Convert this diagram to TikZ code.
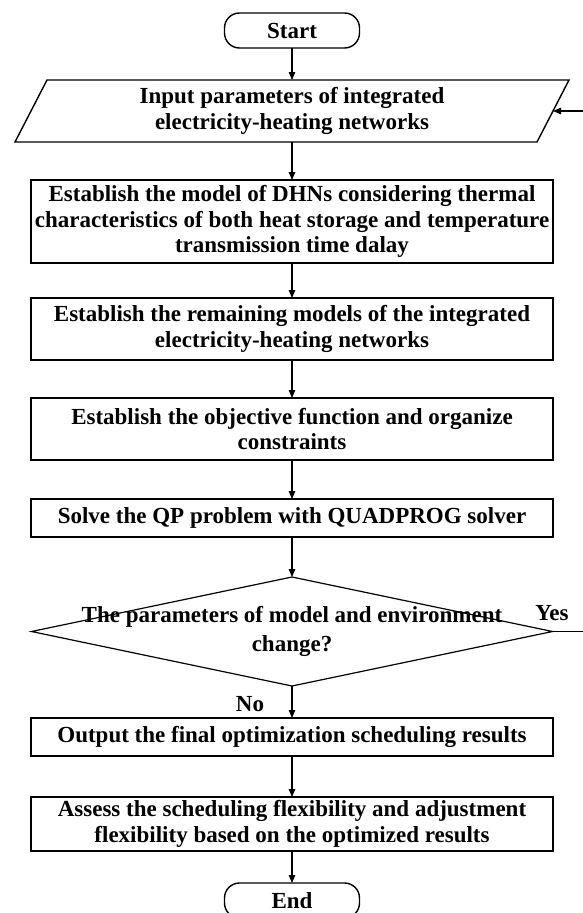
\documentclass[tikz,border=0pt]{standalone}
\usepackage{fontspec}
\setmainfont{Liberation Serif}
\usetikzlibrary{shapes.geometric,arrows.meta,calc}

\begin{document}
\begin{tikzpicture}[x=1pt,y=-1pt,
  every node/.style={font=\bfseries\fontsize{23}{25.5}\selectfont, align=center,
                     inner sep=0pt, outer sep=0pt},
  procbox/.style={draw, line width=1.4pt, minimum width=522pt},
  term/.style={draw, line width=1.4pt, rounded corners=15pt,
               minimum width=135pt, minimum height=35pt},
  flow/.style={line width=1.1pt, -{Triangle[length=8pt,width=6.5pt]}},
]
\useasboundingbox (0,0) rectangle (583,913);

% terminals and process steps
\node[term] (start) at (292,30.5) {Start};

\node[minimum width=522pt, minimum height=62pt] (input) at (292,111)
  {Input parameters of integrated\\electricity-heating networks};
\draw[line width=1.4pt]
  ($(input.north west)+(16,0)$) -- ($(input.north east)+(16,0)$) --
  ($(input.south east)+(-16,0)$) -- ($(input.south west)+(-16,0)$) -- cycle;

\node[procbox, minimum height=83pt] (b1) at (292,221.5)
  {Establish the model of DHNs considering thermal\\
   characteristics of both heat storage and temperature\\
   transmission time dalay};

\node[procbox, minimum height=62pt] (b2) at (292,329)
  {Establish the remaining models of the integrated\\
   electricity-heating networks};

\node[procbox, minimum height=62pt] (b3) at (292,429)
  {Establish the objective function and organize\\constraints};

\node[procbox, minimum height=38pt] (b4) at (292,518)
  {Solve the QP problem with QUADPROG solver};

% decision
\node[draw, diamond, line width=1.2pt, minimum width=521pt,
      minimum height=109pt] (dec) at (292,631.5) {};
\node[font=\bfseries\fontsize{23}{29}\selectfont] (dectext) at (dec.center)
  {The parameters of model and environment\\change?};
\node (yes) at (552,613) {Yes};
\node (no) at (250,704) {No};

\node[procbox, minimum height=38pt] (b5) at (292,737)
  {Output the final optimization scheduling results};

\node[procbox, minimum height=54pt] (b6) at (292,824)
  {Assess the scheduling flexibility and adjustment\\
   flexibility based on the optimized results};

\node[term] (end) at (292,900.5) {End};

% connectors
\draw[flow] (start) -- (input);
\draw[flow] (input) -- (b1);
\draw[flow] (b1) -- (b2);
\draw[flow] (b2) -- (b3);
\draw[flow] (b3) -- (b4);
\draw[flow] (b4) -- (dec);
\draw[flow] (dec) -- (b5);
\draw[flow] (b5) -- (b6);
\draw[flow] (b6) -- (end);

% feedback loop on the right
\coordinate (loop) at (592,631.5);
\draw[flow] (dec.east) -- (loop) |- (input.east);
\end{tikzpicture}
\end{document}
